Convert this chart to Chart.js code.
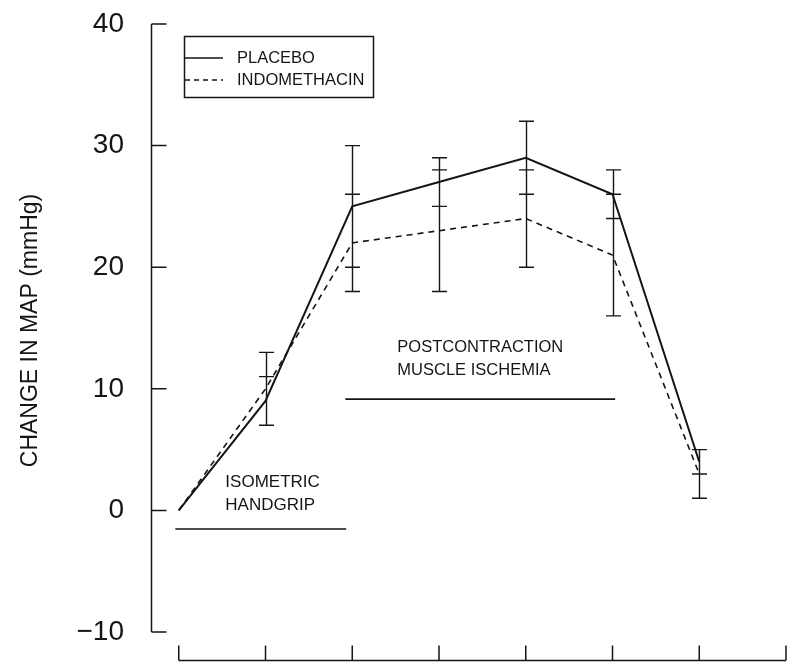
<!DOCTYPE html>
<html>
<head>
<meta charset="utf-8">
<script src="https://cdn.jsdelivr.net/npm/chart.js@4.4.1/dist/chart.umd.min.js"></script>
<style>
  html, body { margin: 0; padding: 0; background: #fff; }
  #wrap { width: 792px; height: 666px; }
</style>
</head>
<body>
<div id="wrap"><canvas id="chart" width="792" height="666"></canvas></div>
<script>
// time points (x) and the tick positions on the bottom axis
const timePoints = [0, 1, 2, 3, 4, 5, 6];
const xTicks = [0, 1, 2, 3, 4, 5, 6, 7];
const yTicks = [-10, 0, 10, 20, 30, 40];

// mean change in MAP and its error, per group
const placebo = [0, 9, 25, 27, 29, 26, 4];
const placeboErr = [0, 2, 5, 2, 3, 2, 1];
const indomethacin = [0, 10, 22, 23, 24, 21, 3];
const indomethacinErr = [0, 3, 4, 5, 4, 5, 2];

const seriesNames = ['PLACEBO', 'INDOMETHACIN'];
const yTitle = 'CHANGE IN MAP (mmHg)';
const handgripLabel = ['ISOMETRIC', 'HANDGRIP'];
const ischemiaLabel = ['POSTCONTRACTION', 'MUSCLE ISCHEMIA'];

const INK = '#151515';
const FONT = '"Liberation Sans", Arial, sans-serif';

const toPoints = (vals) => timePoints.map((x, i) => ({ x: x, y: vals[i] }));

// axes, error bars, legend box and phase labels
const extrasPlugin = {
    id: 'extras',
    afterDatasetsDraw(chart) {
        const { ctx, chartArea } = chart;
        const xs = chart.scales.x;
        const ys = chart.scales.y;
        ctx.save();
        ctx.strokeStyle = INK;
        ctx.fillStyle = INK;
        ctx.lineCap = 'butt';

        // y axis with inward ticks
        const axX = chartArea.left + 0.5;
        ctx.lineWidth = 1.5;
        ctx.beginPath();
        ctx.moveTo(axX, ys.getPixelForValue(yTicks[0]));
        ctx.lineTo(axX, ys.getPixelForValue(yTicks[yTicks.length - 1]));
        yTicks.forEach(v => {
            const py = ys.getPixelForValue(v);
            ctx.moveTo(axX, py);
            ctx.lineTo(axX + 15, py);
        });
        ctx.stroke();

        // x axis with upward ticks
        const axY = chartArea.bottom - 0.5;
        ctx.beginPath();
        ctx.moveTo(xs.getPixelForValue(xTicks[0]), axY);
        ctx.lineTo(xs.getPixelForValue(xTicks[xTicks.length - 1]), axY);
        xTicks.forEach(v => {
            const px = xs.getPixelForValue(v);
            ctx.moveTo(px, axY);
            ctx.lineTo(px, axY - 15);
        });
        ctx.stroke();

        // error bars: one stem per time point, a cap for every bound
        ctx.lineWidth = 1.4;
        timePoints.forEach((t, i) => {
            const caps = [];
            if (placeboErr[i] > 0) caps.push(placebo[i] + placeboErr[i], placebo[i] - placeboErr[i]);
            if (indomethacinErr[i] > 0) caps.push(indomethacin[i] + indomethacinErr[i], indomethacin[i] - indomethacinErr[i]);
            if (!caps.length) return;
            const px = Math.round(xs.getPixelForValue(t)) + 0.5;
            ctx.beginPath();
            ctx.moveTo(px, ys.getPixelForValue(Math.max(...caps)));
            ctx.lineTo(px, ys.getPixelForValue(Math.min(...caps)));
            caps.forEach(c => {
                const py = ys.getPixelForValue(c);
                ctx.moveTo(px - 7.5, py);
                ctx.lineTo(px + 7.5, py);
            });
            ctx.stroke();
        });

        // legend box
        ctx.lineWidth = 1.5;
        ctx.strokeRect(184.5, 36.5, 189, 61);
        ctx.font = '16.5px ' + FONT;
        ctx.textBaseline = 'middle';
        ctx.textAlign = 'left';
        ctx.lineWidth = 1.6;
        ctx.beginPath();
        ctx.moveTo(185, 58);
        ctx.lineTo(223, 58);
        ctx.stroke();
        ctx.setLineDash([5, 4]);
        ctx.beginPath();
        ctx.moveTo(185, 80);
        ctx.lineTo(223, 80);
        ctx.stroke();
        ctx.setLineDash([]);
        ctx.fillText(seriesNames[0], 237, 58);
        ctx.fillText(seriesNames[1], 237, 80);

        // phase labels and bars
        ctx.font = '17px ' + FONT;
        ctx.fillText(handgripLabel[0], xs.getPixelForValue(0.537), ys.getPixelForValue(2.34));
        ctx.fillText(handgripLabel[1], xs.getPixelForValue(0.537), ys.getPixelForValue(0.44));
        ctx.font = '16.5px ' + FONT;
        ctx.fillText(ischemiaLabel[0], xs.getPixelForValue(2.52), ys.getPixelForValue(13.44));
        ctx.fillText(ischemiaLabel[1], xs.getPixelForValue(2.52), ys.getPixelForValue(11.55));

        ctx.lineWidth = 1.6;
        ctx.beginPath();
        ctx.moveTo(xs.getPixelForValue(-0.04), ys.getPixelForValue(-1.53));
        ctx.lineTo(xs.getPixelForValue(1.93), ys.getPixelForValue(-1.53));
        ctx.moveTo(xs.getPixelForValue(1.92), ys.getPixelForValue(9.15));
        ctx.lineTo(xs.getPixelForValue(5.03), ys.getPixelForValue(9.15));
        ctx.stroke();

        ctx.restore();
    }
};

new Chart(document.getElementById('chart'), {
    type: 'line',
    data: {
        datasets: [{
            label: seriesNames[0],
            data: toPoints(placebo),
            borderColor: INK,
            borderWidth: 2,
            pointRadius: 0,
            fill: false,
            tension: 0
        }, {
            label: seriesNames[1],
            data: toPoints(indomethacin),
            borderColor: INK,
            borderWidth: 1.6,
            borderDash: [6, 5],
            pointRadius: 0,
            fill: false,
            tension: 0
        }]
    },
    options: {
        responsive: false,
        animation: false,
        devicePixelRatio: 1,
        layout: { autoPadding: false, padding: { top: 0, right: 6, bottom: 5, left: 0 } },
        plugins: {
            legend: { display: false },
            tooltip: { enabled: false }
        },
        scales: {
            x: {
                type: 'linear',
                display: false,
                min: -0.32,
                max: 7
            },
            y: {
                min: -12.38,
                max: 41.97,
                afterBuildTicks: (scale) => {
                    scale.ticks = yTicks.map(v => ({ value: v }));
                },
                afterFit: (scale) => {
                    scale.width = 151;
                    scale.paddingTop = 0;
                    scale.paddingBottom = 0;
                },
                grid: { display: false },
                border: { display: false },
                ticks: {
                    padding: 19,
                    color: INK,
                    font: { family: FONT, size: 28 },
                    callback: (v) => v < 0 ? '\u2212' + Math.abs(v) : String(v)
                },
                title: {
                    display: true,
                    text: yTitle,
                    color: INK,
                    font: { family: FONT, size: 23 },
                    padding: { top: 17, bottom: 0 }
                }
            }
        }
    },
    plugins: [extrasPlugin]
});
</script>
</body>
</html>
